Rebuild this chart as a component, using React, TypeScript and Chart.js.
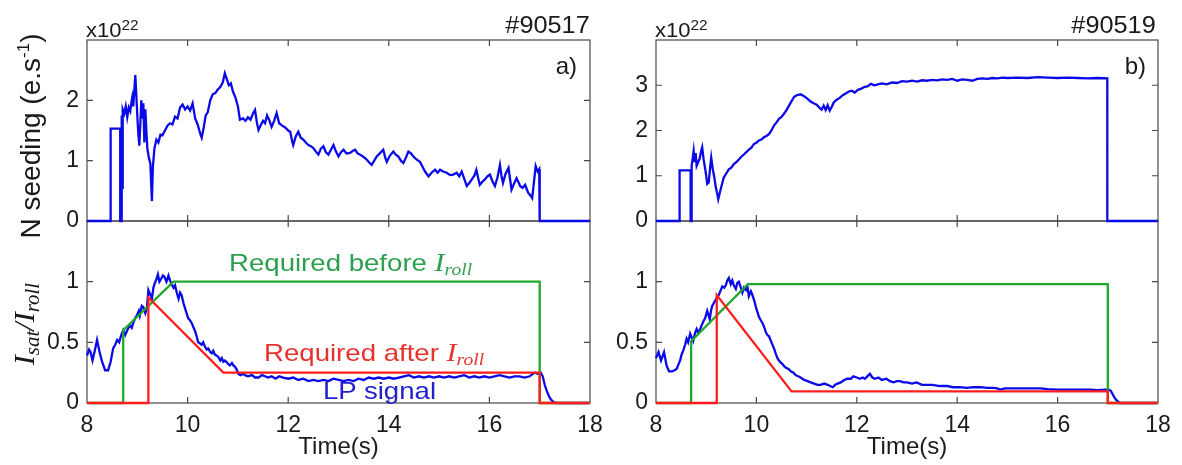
import React, { useEffect, useRef } from "react";
import { Chart, registerables } from "chart.js";

Chart.register(...registerables);

const W = 1182;
const H = 465;

// ---------- tick values ----------
const X_TICKS = [8, 10, 12, 14, 16, 18];
const SEED_A_Y_TICKS = [0, 1, 2];
const SEED_B_Y_TICKS = [0, 1, 2, 3];
const RATIO_Y_TICKS = [0, 0.5, 1];

// ---------- #90517 N seeding (x10^22 e/s) ----------
const SEED_A_T = [
  8.0, 8.47, 8.47, 8.66, 8.66, 8.69, 8.69, 8.7, 8.71, 8.74, 8.77, 8.8, 8.83, 8.86, 8.88, 8.9, 8.92, 8.94, 8.96, 8.98,
  9.0, 9.02, 9.04, 9.06, 9.08, 9.1, 9.12, 9.14, 9.16, 9.18, 9.2, 9.23, 9.26, 9.29, 9.31, 9.34, 9.38, 9.42, 9.46, 9.5,
  9.55, 9.6, 9.65, 9.7, 9.75, 9.8, 9.85, 9.9, 9.95, 10.0, 10.05, 10.1, 10.15, 10.2, 10.25, 10.28, 10.32, 10.36, 10.4, 10.45,
  10.5, 10.55, 10.6, 10.65, 10.7, 10.74, 10.78, 10.82, 10.86, 10.9, 10.95, 11.0, 11.04, 11.1, 11.15, 11.2, 11.25, 11.3, 11.34, 11.38,
  11.41, 11.46, 11.5, 11.54, 11.58, 11.62, 11.67, 11.72, 11.77, 11.82, 11.88, 11.94, 12.0, 12.04, 12.08, 12.1, 12.15, 12.2, 12.25, 12.3,
  12.35, 12.4, 12.45, 12.5, 12.55, 12.6, 12.65, 12.7, 12.75, 12.8, 12.85, 12.9, 12.95, 13.0, 13.05, 13.1, 13.16, 13.23, 13.28, 13.33,
  13.38, 13.43, 13.5, 13.56, 13.61, 13.66, 13.71, 13.76, 13.82, 13.89, 13.93, 13.96, 14.02, 14.09, 14.14, 14.19, 14.24, 14.29, 14.34, 14.39,
  14.44, 14.49, 14.55, 14.62, 14.67, 14.72, 14.79, 14.85, 14.92, 14.97, 15.02, 15.08, 15.15, 15.22, 15.28, 15.35, 15.4, 15.45, 15.5, 15.55,
  15.6, 15.65, 15.7, 15.74, 15.78, 15.81, 15.86, 15.91, 15.96, 16.01, 16.06, 16.11, 16.16, 16.21, 16.24, 16.27, 16.32, 16.38, 16.41, 16.44,
  16.49, 16.54, 16.58, 16.61, 16.66, 16.71, 16.77, 16.82, 16.85, 16.88, 16.92, 16.96, 16.99, 17.0, 17.0, 18.0,
];
const SEED_A_V = [
  0, 0, 1.53, 1.53, 0, 0, 1.75, 0.55, 1.85, 1.78, 1.9, 1.72, 1.88, 1.82, 1.95, 2.05, 1.9, 2.15, 2.42, 2.1,
  1.75, 1.45, 1.25, 1.6, 2.0, 1.7, 1.95, 1.3, 1.85, 1.5, 1.2, 1.05, 0.95, 0.33, 0.9, 1.2, 1.35, 1.3, 1.43, 1.42,
  1.5, 1.58, 1.62, 1.6, 1.73, 1.7, 1.88, 1.93, 1.85, 1.9, 1.83, 1.95, 1.7, 1.6, 1.45, 1.38, 1.55, 1.75, 1.8, 2.0,
  2.1, 2.12, 2.18, 2.22, 2.3, 2.45, 2.35, 2.25, 2.28, 2.15, 2.05, 1.9, 1.68, 1.7, 1.66, 1.72, 1.68, 1.78, 1.84, 1.62,
  1.51, 1.6, 1.66, 1.62, 1.75, 1.68, 1.56, 1.66, 1.79, 1.62, 1.58, 1.55, 1.5, 1.48, 1.32, 1.26, 1.4, 1.48, 1.38, 1.35,
  1.3, 1.26, 1.24, 1.21, 1.15, 1.1, 1.2, 1.24, 1.14, 1.1, 1.18, 1.26, 1.15, 1.07, 1.14, 1.18, 1.12, 1.13, 1.16, 1.18,
  1.12, 1.1, 1.06, 1.02, 0.97, 0.93, 1.0, 1.07, 1.12, 1.18, 1.05, 0.98, 1.08, 1.15, 1.1, 1.07, 1.0, 0.96, 1.05, 1.15,
  1.12, 1.07, 1.02, 0.98, 0.9, 0.82, 0.74, 0.8, 0.85, 0.8, 0.85, 0.82, 0.8, 0.76, 0.77, 0.8, 0.74, 0.82, 0.7, 0.58,
  0.63, 0.69, 0.75, 0.85, 0.7, 0.6, 0.65, 0.69, 0.74, 0.77, 0.66, 0.58, 0.72, 0.93, 0.75, 0.63, 0.78, 0.88, 0.7, 0.52,
  0.62, 0.71, 0.64, 0.58, 0.55, 0.6, 0.47, 0.42, 0.38, 0.6, 0.91, 0.82, 0.86, 0.86, 0, 0,
];

// ---------- #90519 N seeding (x10^22 e/s) ----------
const SEED_B_T = [
  8.0, 8.47, 8.47, 8.69, 8.69, 8.71, 8.71, 8.73, 8.75, 8.77, 8.79, 8.81, 8.84, 8.87, 8.9, 8.92, 8.95, 8.97, 9.0, 9.02,
  9.05, 9.08, 9.1, 9.13, 9.16, 9.19, 9.22, 9.24, 9.27, 9.3, 9.35, 9.4, 9.45, 9.5, 9.55, 9.6, 9.65, 9.7, 9.75, 9.8,
  9.85, 9.9, 9.95, 10.0, 10.05, 10.1, 10.15, 10.2, 10.25, 10.3, 10.35, 10.4, 10.45, 10.5, 10.55, 10.6, 10.65, 10.7, 10.75, 10.8,
  10.88, 10.95, 11.02, 11.08, 11.14, 11.2, 11.26, 11.3, 11.34, 11.38, 11.42, 11.46, 11.5, 11.54, 11.6, 11.66, 11.72, 11.78, 11.84, 11.9,
  11.96, 12.02, 12.08, 12.15, 12.22, 12.28, 12.35, 12.42, 12.5, 12.6, 12.7, 12.8, 12.9, 13.0, 13.1, 13.2, 13.3, 13.4, 13.5, 13.6,
  13.7, 13.8, 13.9, 14.0, 14.1, 14.2, 14.3, 14.4, 14.5, 14.6, 14.7, 14.8, 14.9, 15.0, 15.2, 15.4, 15.6, 15.8, 16.0, 16.2,
  16.4, 16.6, 16.8, 16.99, 16.99, 18.0,
];
const SEED_B_V = [
  0, 0, 1.12, 1.12, 0, 0, 1.22, 1.38, 1.55, 1.3, 1.5, 1.22, 1.3, 1.38, 1.55, 1.63, 1.35, 1.22, 1.0, 0.82,
  0.85, 1.2, 1.4, 1.15, 0.98, 0.75, 0.6, 0.48, 0.62, 0.75, 0.96, 1.05, 1.14, 1.18, 1.26, 1.3, 1.36, 1.42, 1.47, 1.52,
  1.58, 1.62, 1.7, 1.73, 1.78, 1.8, 1.85, 1.88, 1.92, 2.0, 2.11, 2.18, 2.26, 2.3, 2.37, 2.45, 2.55, 2.65, 2.74, 2.78,
  2.8, 2.76, 2.7, 2.64, 2.6, 2.57, 2.5, 2.46, 2.55, 2.45, 2.56, 2.44, 2.52, 2.62, 2.68, 2.72, 2.78, 2.82, 2.86, 2.88,
  2.84, 2.9, 2.92, 2.96, 2.98, 3.03, 3.0, 3.02, 3.04, 3.02, 3.06, 3.05, 3.09, 3.08, 3.1, 3.08, 3.11, 3.1, 3.12, 3.11,
  3.13, 3.12, 3.14, 3.1, 3.13, 3.12, 3.1, 3.14, 3.15, 3.14, 3.16, 3.15, 3.17, 3.16, 3.17, 3.16, 3.18, 3.17, 3.16, 3.17,
  3.16, 3.15, 3.16, 3.15, 0, 0,
];

// ---------- #90517 Isat/Iroll ----------
const LP_A_T = [
  8.0, 8.04, 8.07, 8.11, 8.16, 8.2, 8.25, 8.3, 8.36, 8.42, 8.47, 8.52, 8.56, 8.6, 8.64, 8.68, 8.72, 8.76, 8.8, 8.85,
  8.89, 8.92, 8.96, 8.99, 9.03, 9.05, 9.09, 9.12, 9.16, 9.19, 9.22, 9.25, 9.29, 9.32, 9.35, 9.38, 9.41, 9.44, 9.47, 9.51,
  9.54, 9.58, 9.62, 9.65, 9.68, 9.72, 9.75, 9.79, 9.82, 9.85, 9.88, 9.92, 9.95, 9.98, 10.01, 10.05, 10.08, 10.12, 10.15, 10.18,
  10.21, 10.25, 10.28, 10.31, 10.34, 10.38, 10.41, 10.45, 10.48, 10.51, 10.54, 10.58, 10.61, 10.65, 10.68, 10.71, 10.74, 10.77, 10.81, 10.84,
  10.88, 10.91, 10.94, 10.97, 11.01, 11.05, 11.1, 11.14, 11.2, 11.28, 11.34, 11.41, 11.48, 11.54, 11.6, 11.67, 11.75, 11.82, 11.9, 12.0,
  12.1, 12.2, 12.3, 12.4, 12.5, 12.6, 12.7, 12.8, 12.9, 13.0, 13.1, 13.2, 13.3, 13.4, 13.5, 13.6, 13.7, 13.8, 13.9, 14.0,
  14.1, 14.2, 14.3, 14.4, 14.5, 14.6, 14.7, 14.8, 14.9, 15.0, 15.1, 15.2, 15.3, 15.4, 15.5, 15.6, 15.7, 15.8, 15.9, 16.0,
  16.1, 16.2, 16.3, 16.4, 16.5, 16.6, 16.7, 16.8, 16.9, 16.96, 17.02, 17.06, 17.1, 17.14, 17.18, 17.22, 17.27, 17.32, 18.0,
];
const LP_A_V = [
  0.39, 0.44, 0.42, 0.35, 0.44, 0.52, 0.42, 0.34, 0.27, 0.27, 0.34, 0.45, 0.48, 0.52, 0.5, 0.56, 0.6, 0.56, 0.6, 0.64,
  0.62, 0.66, 0.7, 0.72, 0.76, 0.72, 0.8, 0.79, 0.74, 0.78, 0.93, 0.9, 0.86, 0.95, 0.99, 1.02, 1.06, 1.0, 1.02, 1.05,
  1.04, 1.0, 1.05, 1.01, 0.98, 0.95, 0.97, 0.9, 0.86, 0.91, 0.89, 0.82, 0.78, 0.74, 0.7, 0.68, 0.66, 0.62, 0.59, 0.55,
  0.5, 0.49, 0.48, 0.5, 0.47, 0.44, 0.45, 0.42, 0.41, 0.43, 0.4, 0.39, 0.38, 0.35, 0.37, 0.34, 0.35, 0.34, 0.32, 0.31,
  0.33, 0.31, 0.3, 0.28, 0.24, 0.23, 0.24, 0.23, 0.22, 0.23, 0.21, 0.21, 0.23, 0.22, 0.21, 0.22, 0.2, 0.22, 0.21, 0.2,
  0.21, 0.19, 0.2, 0.18, 0.19, 0.18, 0.19, 0.18, 0.2, 0.19, 0.18, 0.19, 0.18, 0.2, 0.19, 0.21, 0.2, 0.21, 0.2, 0.21,
  0.2, 0.21, 0.22, 0.23, 0.21, 0.22, 0.21, 0.22, 0.21, 0.22, 0.21, 0.22, 0.21, 0.22, 0.23, 0.21, 0.22, 0.21, 0.22, 0.21,
  0.22, 0.23, 0.22, 0.21, 0.22, 0.22, 0.21, 0.22, 0.25, 0.24, 0.25, 0.22, 0.15, 0.1, 0.06, 0.03, 0.01, 0, 0,
];
const BEFORE_A_T = [8, 8.72, 8.72, 9.72, 17.0, 17.0, 18];
const BEFORE_A_V = [0, 0, 0.6, 1.0, 1.0, 0, 0];
const AFTER_A_T = [8, 9.22, 9.22, 10.71, 17.0, 17.0, 18];
const AFTER_A_V = [0, 0, 0.87, 0.25, 0.25, 0, 0];

// ---------- #90519 Isat/Iroll ----------
const LP_B_T = [
  8.0, 8.05, 8.1, 8.16, 8.21, 8.26, 8.32, 8.37, 8.41, 8.45, 8.48, 8.51, 8.54, 8.58, 8.61, 8.64, 8.68, 8.71, 8.74, 8.78,
  8.81, 8.84, 8.87, 8.91, 8.94, 8.98, 9.02, 9.05, 9.07, 9.1, 9.12, 9.16, 9.19, 9.22, 9.25, 9.29, 9.32, 9.36, 9.39, 9.42,
  9.45, 9.49, 9.52, 9.55, 9.59, 9.62, 9.65, 9.69, 9.72, 9.75, 9.79, 9.82, 9.85, 9.89, 9.92, 9.96, 9.99, 10.02, 10.05, 10.09,
  10.12, 10.16, 10.19, 10.22, 10.25, 10.29, 10.32, 10.36, 10.39, 10.42, 10.45, 10.49, 10.52, 10.56, 10.59, 10.64, 10.69, 10.74, 10.78, 10.83,
  10.88, 10.95, 11.02, 11.08, 11.15, 11.22, 11.28, 11.35, 11.42, 11.47, 11.52, 11.57, 11.62, 11.68, 11.75, 11.81, 11.88, 11.93, 12.0, 12.06,
  12.12, 12.16, 12.21, 12.26, 12.31, 12.36, 12.43, 12.5, 12.59, 12.66, 12.73, 12.8, 12.86, 12.93, 13.0, 13.1, 13.19, 13.3, 13.39, 13.5,
  13.66, 13.8, 13.92, 14.05, 14.19, 14.32, 14.46, 14.6, 14.72, 14.8, 14.86, 14.95, 15.12, 15.25, 15.39, 15.52, 15.66, 15.8, 15.99, 16.15,
  16.32, 16.5, 16.65, 16.8, 16.95, 17.02, 17.06, 17.1, 17.14, 17.18, 17.24, 18.0,
];
const LP_B_V = [
  0.37, 0.42, 0.35, 0.42, 0.31, 0.26, 0.26, 0.27, 0.28, 0.32, 0.35, 0.4, 0.43, 0.48, 0.53, 0.5, 0.57, 0.54, 0.51, 0.58,
  0.61, 0.58, 0.6, 0.64, 0.67, 0.7, 0.76, 0.72, 0.69, 0.77, 0.8, 0.83, 0.85, 0.88, 0.89, 0.93, 0.96, 0.95, 0.97, 1.01,
  1.03, 0.98, 1.01, 0.97, 0.94, 0.99, 1.0, 0.95, 0.91, 0.95, 0.93, 0.96, 0.88, 0.92, 0.89, 0.84, 0.79, 0.75, 0.71, 0.68,
  0.66, 0.62, 0.58, 0.56, 0.55, 0.51, 0.48, 0.44, 0.4, 0.37, 0.35, 0.33, 0.32, 0.3, 0.29, 0.28, 0.26, 0.25, 0.23, 0.22,
  0.21, 0.19, 0.18, 0.17, 0.16, 0.15, 0.15, 0.16, 0.15, 0.14, 0.13, 0.15, 0.16, 0.17, 0.19, 0.2, 0.2, 0.22, 0.21, 0.2,
  0.21, 0.2, 0.22, 0.24, 0.21, 0.2, 0.21, 0.19, 0.2, 0.18, 0.17, 0.18, 0.18, 0.17, 0.17, 0.16, 0.17, 0.15, 0.15, 0.15,
  0.14, 0.14, 0.13, 0.13, 0.125, 0.13, 0.13, 0.125, 0.125, 0.12, 0.11, 0.12, 0.12, 0.12, 0.12, 0.12, 0.12, 0.115, 0.11, 0.11,
  0.11, 0.11, 0.11, 0.105, 0.11, 0.11, 0.1, 0.07, 0.04, 0.02, 0, 0,
];
const BEFORE_B_T = [8, 8.7, 8.7, 9.83, 17.0, 17.0, 18];
const BEFORE_B_V = [0, 0, 0.51, 0.98, 0.98, 0, 0];
const AFTER_B_T = [8, 9.21, 9.21, 10.7, 17.0, 17.0, 18];
const AFTER_B_V = [0, 0, 0.89, 0.095, 0.095, 0, 0];

// ---------- styling ----------
const SANS = "'Liberation Sans', Arial, Helvetica, sans-serif";
const SERIF = "'Liberation Serif', 'Times New Roman', serif";
const TXT = "#1a1a1a";
const BLUE = "#0a0ae8";
const GREEN = "#1fa82a";
const RED = "#ff1c1c";
const FRAME = "#4a4a4a";

type Series = { t: number[]; v: number[]; color: string };
type Panel = {
  area: { left: number; top: number; right: number; bottom: number };
  padLeft: number;
  yMax: number;
  yTicks: number[];
  showX: boolean;
  series: Series[]; // first one is drawn on top
};

const PANELS: Panel[] = [
  {
    area: { left: 87, top: 221, right: 590, bottom: 403 },
    padLeft: 0,
    yMax: 1.5,
    yTicks: RATIO_Y_TICKS,
    showX: true,
    series: [
      { t: AFTER_A_T, v: AFTER_A_V, color: RED },
      { t: BEFORE_A_T, v: BEFORE_A_V, color: GREEN },
      { t: LP_A_T, v: LP_A_V, color: BLUE },
    ],
  },
  {
    area: { left: 656, top: 221, right: 1158, bottom: 403 },
    padLeft: 600,
    yMax: 1.5,
    yTicks: RATIO_Y_TICKS,
    showX: true,
    series: [
      { t: AFTER_B_T, v: AFTER_B_V, color: RED },
      { t: BEFORE_B_T, v: BEFORE_B_V, color: GREEN },
      { t: LP_B_T, v: LP_B_V, color: BLUE },
    ],
  },
  {
    area: { left: 87, top: 40, right: 590, bottom: 221 },
    padLeft: 0,
    yMax: 3,
    yTicks: SEED_A_Y_TICKS,
    showX: false,
    series: [{ t: SEED_A_T, v: SEED_A_V, color: BLUE }],
  },
  {
    area: { left: 656, top: 40, right: 1158, bottom: 221 },
    padLeft: 600,
    yMax: 4,
    yTicks: SEED_B_Y_TICKS,
    showX: false,
    series: [{ t: SEED_B_T, v: SEED_B_V, color: BLUE }],
  },
];

const framePlugin = {
  id: "frame",
  beforeDatasetsDraw(chart: any) {
    const { ctx, chartArea: a, scales } = chart;
    ctx.save();
    ctx.strokeStyle = FRAME;
    ctx.lineWidth = 1.2;
    ctx.strokeRect(a.left, a.top, a.right - a.left, a.bottom - a.top);
    const len = 6;
    ctx.beginPath();
    for (const tk of scales.x.ticks) {
      if (tk.value <= scales.x.min || tk.value >= scales.x.max) continue;
      const px = scales.x.getPixelForValue(tk.value);
      ctx.moveTo(px, a.bottom);
      ctx.lineTo(px, a.bottom - len);
      ctx.moveTo(px, a.top);
      ctx.lineTo(px, a.top + len);
    }
    for (const tk of scales.y.ticks) {
      if (tk.value <= scales.y.min || tk.value >= scales.y.max) continue;
      const py = scales.y.getPixelForValue(tk.value);
      ctx.moveTo(a.left, py);
      ctx.lineTo(a.left + len, py);
      ctx.moveTo(a.right, py);
      ctx.lineTo(a.right - len, py);
    }
    ctx.stroke();
    ctx.restore();
  },
};

function buildChart(canvas: HTMLCanvasElement, p: Panel) {
  const tickFont = { family: SANS, size: 23 };
  return new Chart(canvas, {
    type: "line",
    data: {
      datasets: p.series.map((s, i) => ({
        data: s.t.map((t, k) => ({ x: t, y: s.v[k] })),
        borderColor: s.color,
        borderWidth: 2.3,
        pointRadius: 0,
        tension: 0,
        fill: false,
        clip: false,
        order: i,
      })),
    },
    options: {
      animation: false,
      responsive: false,
      events: [],
      layout: {
        autoPadding: false,
        padding: {
          left: p.padLeft,
          top: p.area.top,
          right: W - p.area.right,
          bottom: p.showX ? 0 : H - p.area.bottom,
        },
      },
      plugins: { legend: { display: false }, tooltip: { enabled: false } },
      scales: {
        x: {
          type: "linear",
          min: 8,
          max: 18,
          afterBuildTicks: (s: any) => {
            s.ticks = X_TICKS.map((v) => ({ value: v }));
          },
          afterFit: (s: any) => {
            s.height = p.showX ? H - p.area.bottom : 0;
          },
          grid: { display: false, drawTicks: false },
          border: { display: false },
          ticks: {
            display: p.showX,
            font: tickFont,
            color: TXT,
            padding: 9,
            maxRotation: 0,
            autoSkip: false,
            callback: (v: any) => String(v),
          },
          title: {
            display: p.showX,
            text: "Time(s)",
            font: { family: SANS, size: 24 },
            color: TXT,
            padding: { top: 0, bottom: 3 },
          },
        },
        y: {
          type: "linear",
          min: 0,
          max: p.yMax,
          afterBuildTicks: (s: any) => {
            s.ticks = p.yTicks.map((v) => ({ value: v }));
          },
          afterFit: (s: any) => {
            s.width = p.area.left - p.padLeft;
          },
          grid: { display: false, drawTicks: false },
          border: { display: false },
          ticks: {
            font: tickFont,
            color: TXT,
            padding: 8,
            callback: (v: any) => String(v),
          },
        },
      },
    } as any,
    plugins: [framePlugin],
  });
}

const abs = (s: React.CSSProperties): React.CSSProperties => ({
  position: "absolute",
  whiteSpace: "nowrap",
  lineHeight: 1,
  fontFamily: SANS,
  color: TXT,
  pointerEvents: "none",
  ...s,
});

function Iroll({ size }: { size: number }) {
  return (
    <span style={{ fontFamily: SERIF, fontStyle: "italic" }}>
      <span style={{ fontSize: size + 2 }}>I</span>
      <span style={{ fontSize: Math.round(size * 0.72), verticalAlign: -4 }}>roll</span>
    </span>
  );
}

export default function App() {
  const refs = useRef<(HTMLCanvasElement | null)[]>([]);

  useEffect(() => {
    const charts = PANELS.map((p, i) => buildChart(refs.current[i] as HTMLCanvasElement, p));
    return () => charts.forEach((c) => c.destroy());
  }, []);

  return (
    <div style={{ position: "fixed", left: 0, top: 0, width: W, height: H, background: "#fff", overflow: "hidden" }}>
      {PANELS.map((_, i) => (
        <canvas
          key={i}
          ref={(el) => {
            refs.current[i] = el;
          }}
          width={W}
          height={H}
          style={{ position: "absolute", left: 0, top: 0, width: W, height: H }}
        />
      ))}

      {/* header texts */}
      <div style={abs({ left: 86, top: 18, fontSize: 20, transform: "scaleX(1.1)", transformOrigin: "left" })}>
        x10<span style={{ fontSize: 14, verticalAlign: 7 }}>22</span>
      </div>
      <div style={abs({ left: 655, top: 18, fontSize: 20, transform: "scaleX(1.1)", transformOrigin: "left" })}>
        x10<span style={{ fontSize: 14, verticalAlign: 7 }}>22</span>
      </div>
      <div style={abs({ right: W - 590, top: 14, fontSize: 23, transform: "scaleX(1.1)", transformOrigin: "right" })}>#90517</div>
      <div style={abs({ right: W - 1156, top: 14, fontSize: 23, transform: "scaleX(1.1)", transformOrigin: "right" })}>#90519</div>
      <div style={abs({ right: W - 577, top: 54, fontSize: 24 })}>a)</div>
      <div style={abs({ right: W - 1146, top: 54, fontSize: 24 })}>b)</div>

      {/* y-axis titles */}
      <div
        style={abs({
          left: 30,
          top: 136,
          fontSize: 28,
          transform: "translate(-50%, -50%) rotate(-90deg)",
        })}
      >
        N seeding (e.s<span style={{ fontSize: 17, verticalAlign: 11 }}>-1</span>)
      </div>
      <div
        style={abs({
          left: 26,
          top: 324,
          fontSize: 30,
          fontFamily: SERIF,
          fontStyle: "italic",
          transform: "translate(-50%, -50%) rotate(-90deg)",
        })}
      >
        I<span style={{ fontSize: 21, verticalAlign: -5 }}>sat</span>/I
        <span style={{ fontSize: 21, verticalAlign: -5 }}>roll</span>
      </div>

      {/* annotations */}
      <div style={abs({ left: 229, top: 250, fontSize: 24, color: "#2e9f4e", transform: "scaleX(1.15)", transformOrigin: "left" })}>
        Required before <Iroll size={24} />
      </div>
      <div style={abs({ left: 264, top: 340, fontSize: 24, color: "#e5332e", transform: "scaleX(1.15)", transformOrigin: "left" })}>
        Required after <Iroll size={24} />
      </div>
      <div style={abs({ left: 323, top: 379, fontSize: 24, color: "#2222cc", transform: "scaleX(1.15)", transformOrigin: "left" })}>
        LP signal
      </div>
    </div>
  );
}
